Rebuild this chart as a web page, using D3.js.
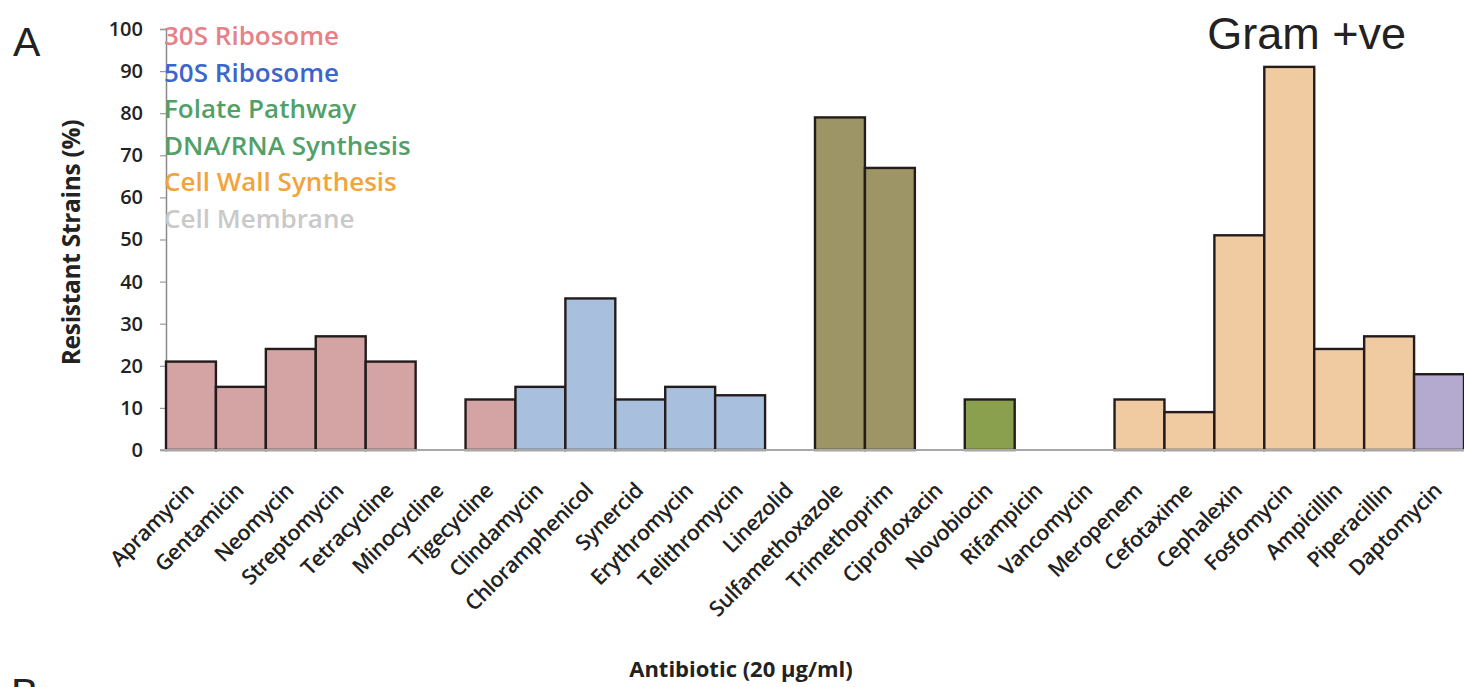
<!DOCTYPE html>
<html>
<head>
<meta charset="utf-8">
<script src="https://cdn.jsdelivr.net/npm/d3@7"></script>
<style>
  html, body { margin: 0; padding: 0; background: #fff; }
  svg { display: block; }
</style>
</head>
<body>
<svg id="chart" width="1464" height="687"></svg>
<script>
// Antibiotics tested, in plotting order
const antibiotics = [
  "Apramycin", "Gentamicin", "Neomycin", "Streptomycin", "Tetracycline",
  "Minocycline", "Tigecycline", "Clindamycin", "Chloramphenicol", "Synercid",
  "Erythromycin", "Telithromycin", "Linezolid", "Sulfamethoxazole", "Trimethoprim",
  "Ciprofloxacin", "Novobiocin", "Rifampicin", "Vancomycin", "Meropenem",
  "Cefotaxime", "Cephalexin", "Fosfomycin", "Ampicillin", "Piperacillin", "Daptomycin"
];

// Percentage of resistant Gram-positive strains
const resistantPct = [
  21, 15, 24, 27, 21,
  0, 12, 15, 36, 12,
  15, 13, 0, 79, 67,
  0, 12, 0, 0, 12,
  9, 51, 91, 24, 27, 18
];

// Drug target class of each antibiotic
const targetClass = [
  "30S", "30S", "30S", "30S", "30S",
  "30S", "30S", "50S", "50S", "50S",
  "50S", "50S", "50S", "Folate", "Folate",
  "DNA", "DNA", "DNA", "Wall", "Wall",
  "Wall", "Wall", "Wall", "Wall", "Wall", "Membrane"
];

// Legend entries
const classKeys   = ["30S", "50S", "Folate", "DNA", "Wall", "Membrane"];
const classLabels = ["30S Ribosome", "50S Ribosome", "Folate Pathway",
                     "DNA/RNA Synthesis", "Cell Wall Synthesis", "Cell Membrane"];
const barColors   = ["#d4a3a3", "#a9bfde", "#9e9566", "#8ba04f", "#f0caa0", "#b4a9cf"];
const labelColors = ["#e58187", "#3b66cc", "#52a068", "#52a068", "#f2a43a", "#c9c9c9"];

const yTicks = [0, 10, 20, 30, 40, 50, 60, 70, 80, 90, 100];

const svg = d3.select("#chart");
const plotLeft = 166, plotRight = 1464, plotTop = 29, plotBottom = 450;

const x = d3.scaleBand().domain(antibiotics).range([plotLeft, plotRight]).padding(0);
const y = d3.scaleLinear().domain([0, 100]).range([plotBottom, plotTop]);
const fill = d3.scaleOrdinal().domain(classKeys).range(barColors);
const textFill = d3.scaleOrdinal().domain(classKeys).range(labelColors);

const labelFont = "'Open Sans', 'DejaVu Sans', sans-serif";

// Y axis
const yAxis = svg.append("g")
  .attr("transform", `translate(${plotLeft},0)`)
  .call(d3.axisLeft(y).tickValues(yTicks).tickSize(6).tickPadding(17));
yAxis.select(".domain").attr("stroke", "#8a8a8a").attr("stroke-width", 1.5);
yAxis.selectAll(".tick line").attr("stroke", "#9a9a9a").attr("stroke-width", 1.2);
yAxis.selectAll(".tick text")
  .attr("font-family", labelFont).attr("font-weight", 600)
  .attr("font-size", 20).attr("fill", "#222");

// Bars
svg.append("g").selectAll("rect")
  .data(antibiotics.map((d, i) => ({ name: d, value: resistantPct[i], cls: targetClass[i] }))
          .filter(d => d.value > 0))
  .join("rect")
  .attr("x", d => x(d.name))
  .attr("y", d => y(d.value))
  .attr("width", x.bandwidth())
  .attr("height", d => y(0) - y(d.value))
  .attr("fill", d => fill(d.cls))
  .attr("stroke", "#241c1c")
  .attr("stroke-width", 2.4);

// Baseline
svg.append("line")
  .attr("x1", plotLeft - 6).attr("x2", plotRight)
  .attr("y1", y(0)).attr("y2", y(0))
  .attr("stroke", "#a8a8a8").attr("stroke-width", 2);

// Rotated category labels
svg.append("g").selectAll("text")
  .data(antibiotics)
  .join("text")
  .attr("transform", d => `translate(${x(d) + x.bandwidth() / 2 + 4},${plotBottom + 42}) rotate(-45)`)
  .attr("text-anchor", "end")
  .attr("font-family", labelFont).attr("font-weight", 600)
  .attr("font-size", 21.5).attr("fill", "#222")
  .attr("letter-spacing", -0.5)
  .text(d => d);

// Legend of target classes
svg.append("g").selectAll("text")
  .data(classKeys)
  .join("text")
  .attr("x", plotLeft - 2)
  .attr("y", (d, i) => 45 + i * 36.5)
  .attr("font-family", labelFont).attr("font-weight", 600)
  .attr("font-size", 26)
  .attr("fill", d => textFill(d))
  .text((d, i) => classLabels[i]);

// Axis titles
svg.append("text")
  .attr("transform", `translate(80,${(plotTop + plotBottom) / 2 + 3}) rotate(-90)`)
  .attr("text-anchor", "middle")
  .attr("font-family", labelFont).attr("font-weight", 700)
  .attr("font-size", 24.5).attr("fill", "#222")
  .attr("letter-spacing", -0.3)
  .text("Resistant Strains (%)");

svg.append("text")
  .attr("x", 741).attr("y", 677)
  .attr("text-anchor", "middle")
  .attr("font-family", labelFont).attr("font-weight", 700)
  .attr("font-size", 22).attr("fill", "#222")
  .text("Antibiotic (20 µg/ml)");

// Panel letters and title
svg.append("text")
  .attr("x", 13).attr("y", 56)
  .attr("font-family", "'Liberation Sans', Arial, sans-serif")
  .attr("font-size", 41).attr("fill", "#222")
  .text("A");

svg.append("text")
  .attr("x", 11).attr("y", 707)
  .attr("font-family", "'Liberation Sans', Arial, sans-serif")
  .attr("font-size", 41).attr("fill", "#222")
  .text("B");

svg.append("text")
  .attr("x", 1406).attr("y", 49)
  .attr("text-anchor", "end")
  .attr("font-family", "'Liberation Sans', Arial, sans-serif")
  .attr("font-size", 45).attr("fill", "#222")
  .text("Gram +ve");
</script>
</body>
</html>
